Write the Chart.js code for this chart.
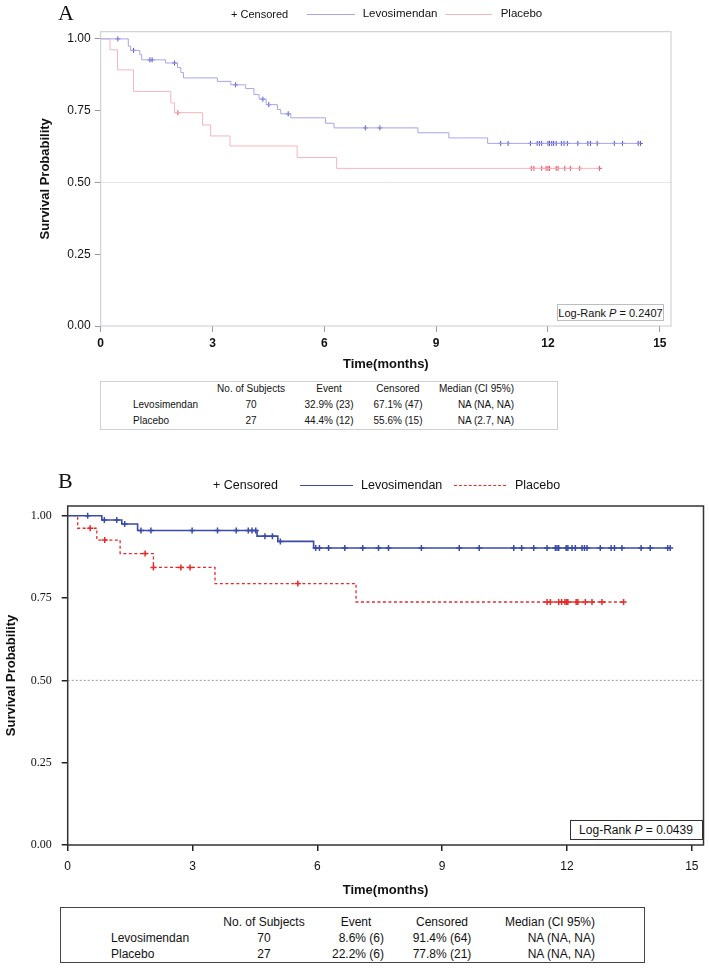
<!DOCTYPE html>
<html>
<head>
<meta charset="utf-8">
<title>Kaplan-Meier survival</title>
<script src="https://cdn.jsdelivr.net/npm/chart.js@4.4.0/dist/chart.umd.min.js"></script>
<style>
  html, body { margin: 0; padding: 0; background: #fff; }
  #page { position: relative; width: 709px; height: 968px; overflow: hidden;
          font-family: "Liberation Sans", Arial, sans-serif; color: #111; }
  #page canvas { position: absolute; left: 0; }
  .t { position: absolute; white-space: nowrap; line-height: 1; }
  .box { position: absolute; box-sizing: border-box; background: #fff; }
  .panel { font-family: "Liberation Serif", "Times New Roman", serif; font-size: 22px; }
  .ln { position: absolute; height: 0; }
</style>
</head>
<body>
<div id="page">
  <canvas id="chartA"></canvas>
  <canvas id="chartB"></canvas>
</div>
<script>
/* ========= DATA ========= */
var xTicks = [0, 3, 6, 9, 12, 15];
var yTicks = [0, 0.25, 0.5, 0.75, 1];
var halfLine = 0.5;
var seriesNames = ['Levosimendan', 'Placebo'];

// Panel A: time of each drop (months) and survival right after it
var aLevoTime = [0, 0.74, 0.80, 1.05, 1.10, 1.74, 2.06, 2.15, 2.22, 3.13, 3.49, 3.89, 4.11, 4.25, 4.44, 4.74, 4.83, 5.10, 6.03, 6.26, 8.51, 9.34, 10.38];
var aLevoSurv = [1, 0.975, 0.960, 0.945, 0.927, 0.916, 0.900, 0.883, 0.864, 0.852, 0.840, 0.827, 0.806, 0.790, 0.771, 0.754, 0.739, 0.725, 0.706, 0.690, 0.673, 0.655, 0.636];
var aLevoCens = [0.46, 0.88, 1.32, 1.38, 1.98, 3.62, 4.35, 4.51, 5.03, 7.10, 7.49, 10.73, 10.93, 11.53, 11.71, 11.77, 11.83, 12.00, 12.04, 12.10, 12.15, 12.22, 12.36, 12.43, 12.52, 12.80, 13.07, 13.14, 13.32, 13.78, 14.00, 14.42, 14.48];

var aPlacTime = [0, 0.25, 0.45, 0.88, 1.88, 1.98, 2.73, 2.95, 3.47, 5.27, 6.33];
var aPlacSurv = [1, 0.962, 0.892, 0.817, 0.777, 0.743, 0.700, 0.662, 0.627, 0.587, 0.549];
var aPlacCens = [2.07, 11.55, 11.62, 11.83, 11.95, 12.00, 12.04, 12.22, 12.27, 12.45, 12.60, 12.85, 13.38];

// Panel B
var bLevoTime = [0, 0.82, 1.30, 1.68, 4.55, 5.05, 5.91];
var bLevoSurv = [1, 0.987, 0.975, 0.955, 0.938, 0.922, 0.902];
var bLevoCens = [0.48, 0.88, 1.18, 1.37, 1.76, 2.00, 2.99, 3.60, 4.05, 4.34, 4.43, 4.52, 4.74, 4.92, 5.11, 5.96, 6.05, 6.27, 6.66, 7.09, 7.47, 7.71, 8.50, 9.41, 9.89, 10.72, 10.91, 11.20, 11.52, 11.72, 11.76, 11.80, 11.98, 12.02, 12.12, 12.20, 12.36, 12.42, 12.48, 12.80, 13.06, 13.14, 13.32, 13.78, 14.00, 14.42, 14.48];

var bPlacTime = [0, 0.24, 0.70, 1.26, 2.06, 3.54, 6.93];
var bPlacSurv = [1, 0.962, 0.926, 0.885, 0.843, 0.794, 0.738];
var bPlacCens = [0.54, 0.89, 1.86, 2.06, 2.72, 2.94, 5.53, 11.52, 11.60, 11.80, 11.87, 11.95, 11.99, 12.02, 12.22, 12.26, 12.44, 12.60, 12.84, 13.36];

var tableHead = ['', 'No. of Subjects', 'Event', 'Censored', 'Median (CI 95%)'];
var tableRowsA = [
    ['Levosimendan', '70', '32.9% (23)', '67.1% (47)', 'NA (NA, NA)'],
    ['Placebo', '27', '44.4% (12)', '55.6% (15)', 'NA (2.7, NA)']
];
var tableRowsB = [
    ['Levosimendan', '70', '8.6% (6)', '91.4% (64)', 'NA (NA, NA)'],
    ['Placebo', '27', '22.2% (6)', '77.8% (21)', 'NA (NA, NA)']
];
var logRankA = '0.2407';
var logRankB = '0.0439';

/* ========= HELPERS ========= */
var page = document.getElementById('page');

function survAt(times, surv, t) {
    var s = surv[0];
    for (var i = 0; i < times.length; i++) if (times[i] <= t) s = surv[i];
    return s;
}
function curve(times, surv, cens) {
    var pts = times.map(function (t, i) { return { x: t, y: surv[i] }; });
    pts.push({ x: Math.max.apply(null, cens), y: surv[surv.length - 1] });
    return pts;
}
function marks(times, surv, cens) {
    return cens.map(function (t) { return { x: t, y: survAt(times, surv, t) }; });
}

function text(parent, html, x, y, align, css) {
    var el = document.createElement('div');
    el.className = 't';
    el.innerHTML = html;
    var tx = align === 'center' ? '-50%' : align === 'right' ? '-100%' : '0';
    el.style.cssText = 'left:' + x + 'px;top:' + y + 'px;transform:translate(' + tx + ',-50%);' + (css || '');
    parent.appendChild(el);
    return el;
}
function box(x, y, w, h, css) {
    var el = document.createElement('div');
    el.className = 'box';
    el.style.cssText = 'left:' + x + 'px;top:' + y + 'px;width:' + w + 'px;height:' + h + 'px;' + (css || '');
    page.appendChild(el);
    return el;
}
function line(x1, x2, y, css) {
    var el = document.createElement('div');
    el.className = 'ln';
    el.style.cssText = 'left:' + x1 + 'px;top:' + y + 'px;width:' + (x2 - x1) + 'px;' + css;
    page.appendChild(el);
}

/* ========= FRAME + 0.50 LINE ========= */
var framePlugin = {
    id: 'frame',
    beforeDatasetsDraw: function (chart, args, o) {
        var a = chart.chartArea, ctx = chart.ctx;
        var y = chart.scales.y.getPixelForValue(halfLine);
        ctx.save();
        ctx.strokeStyle = o.refColor;
        ctx.lineWidth = 1;
        ctx.setLineDash(o.refDash);
        ctx.beginPath();
        ctx.moveTo(a.left, y);
        ctx.lineTo(a.right, y);
        ctx.stroke();
        ctx.restore();
    },
    afterDraw: function (chart, args, o) {
        var a = chart.chartArea, ctx = chart.ctx;
        ctx.save();
        ctx.strokeStyle = o.color;
        ctx.lineWidth = o.width;
        ctx.strokeRect(a.left, a.top, a.right - a.left, a.bottom - a.top);
        ctx.restore();
    }
};

function kmChart(id, top, o) {
    var cv = document.getElementById(id);
    cv.width = 709;
    cv.height = o.height;
    cv.style.top = top + 'px';
    return new Chart(cv, {
        type: 'line',
        data: { datasets: o.datasets },
        options: {
            responsive: false,
            animation: false,
            events: [],
            layout: { padding: o.padding },
            plugins: { legend: { display: false }, tooltip: { enabled: false }, frame: o.frame },
            scales: {
                x: {
                    type: 'linear', min: 0, max: o.xMax,
                    afterBuildTicks: function (s) { s.ticks = xTicks.map(function (v) { return { value: v }; }); },
                    afterFit: function (s) { s.height = o.xHeight; },
                    grid: { drawOnChartArea: false, tickLength: o.tickLen, color: o.tickColor, lineWidth: o.tickWidth },
                    border: { display: false },
                    ticks: { autoSkip: false, maxRotation: 0, font: o.xTickFont, color: '#111', padding: o.xPad },
                    title: { display: true, text: 'Time(months)', font: o.titleFont, color: '#111', padding: 0 }
                },
                y: {
                    min: 0, max: o.yMax,
                    afterBuildTicks: function (s) { s.ticks = yTicks.map(function (v) { return { value: v }; }); },
                    afterFit: function (s) { s.width = o.yWidth; },
                    grid: { drawOnChartArea: false, tickLength: o.tickLen, color: o.tickColor, lineWidth: o.tickWidth },
                    border: { display: false },
                    ticks: { autoSkip: false, font: o.yTickFont, color: '#111', padding: o.yPad,
                             callback: function (v) { return v.toFixed(2); } },
                    title: { display: true, text: 'Survival Probability', font: o.titleFont, color: '#111', padding: 0 }
                }
            }
        },
        plugins: [framePlugin]
    });
}

function stepSet(pts, color, width, dash) {
    return { data: pts, borderColor: color, borderWidth: width, borderDash: dash || [],
             stepped: 'before', pointRadius: 0, fill: false };
}
function markSet(pts, color, r, width) {
    return { data: pts, showLine: false, pointStyle: 'cross', pointRadius: r,
             pointBorderColor: color, pointBorderWidth: width, borderColor: color };
}

/* ========= PANEL A ========= */
kmChart('chartA', 0, {
    height: 380,
    padding: { left: 38, top: 31.7, right: 38, bottom: 8 },
    xHeight: 46, yWidth: 62.7, xMax: 15.3, yMax: 1.025,
    tickLen: 6, tickColor: '#9a9a9a', tickWidth: 1, xPad: 4, yPad: 4,
    xTickFont: { family: 'Liberation Sans', size: 12, weight: 'bold' },
    yTickFont: { family: 'Liberation Sans', size: 12 },
    titleFont: { family: 'Liberation Sans', size: 13, weight: 'bold' },
    frame: { color: '#c9c9d3', width: 1, refColor: '#e4e4ea', refDash: [] },
    datasets: [
        stepSet(curve(aLevoTime, aLevoSurv, aLevoCens), '#a6a6ee', 1),
        stepSet(curve(aPlacTime, aPlacSurv, aPlacCens), '#f6b6be', 1),
        markSet(marks(aLevoTime, aLevoSurv, aLevoCens), '#5252c6', 2.5, 1),
        markSet(marks(aPlacTime, aPlacSurv, aPlacCens), '#e2505e', 2.5, 1)
    ]
});

/* ========= PANEL B ========= */
kmChart('chartB', 460, {
    height: 440,
    padding: { left: 4, top: 46, right: 3.3, bottom: 2.2 },
    xHeight: 52.8, yWidth: 63.7, xMax: 15.28, yMax: 1.0295,
    tickLen: 6, tickColor: '#222', tickWidth: 1.5, xPad: 8, yPad: 10,
    xTickFont: { family: 'Liberation Sans', size: 12 },
    yTickFont: { family: 'Liberation Sans Narrow', size: 12 },
    titleFont: { family: 'Liberation Sans', size: 13, weight: 'bold' },
    frame: { color: '#333', width: 1.5, refColor: '#9a9a9a', refDash: [2, 2] },
    datasets: [
        stepSet(curve(bLevoTime, bLevoSurv, bLevoCens), '#3a4aa8', 1.6),
        stepSet(curve(bPlacTime, bPlacSurv, bPlacCens), '#e82a2a', 1.3, [3, 2.5]),
        markSet(marks(bLevoTime, bLevoSurv, bLevoCens), '#3a4aa8', 3, 1.5),
        markSet(marks(bPlacTime, bPlacSurv, bPlacCens), '#e82a2a', 3, 1.5)
    ]
});

/* ========= LABELS, LEGENDS ========= */
text(page, 'A', 58, 13, 'left', '', 'panel').className = 't panel';
text(page, 'B', 58, 481, 'left').className = 't panel';

text(page, '+ Censored', 231, 14, 'left', 'font-size:11px;');
line(307, 355, 13.5, 'border-top:1px solid #a6a6ee;');
text(page, seriesNames[0], 362.7, 14, 'left', 'font-size:11.5px;');
line(445, 492, 13.5, 'border-top:1px solid #f6b6be;');
text(page, seriesNames[1], 500.7, 14, 'left', 'font-size:11.5px;');

text(page, '+ Censored', 213, 485, 'left', 'font-size:12.5px;');
line(300, 353, 484.5, 'border-top:1.6px solid #3a4aa8;');
text(page, seriesNames[0], 361, 485, 'left', 'font-size:12.5px;');
line(454, 506, 484.5, 'border-top:1.3px dashed #e82a2a;');
text(page, seriesNames[1], 515, 485, 'left', 'font-size:12.5px;');

/* ========= LOG-RANK BOXES ========= */
var lrA = box(557, 304, 107, 17, 'border:1px solid #bdbdc4;');
text(lrA, 'Log-Rank <i>P</i> = ' + logRankA, 52.5, 8, 'center', 'font-size:11px;');
var lrB = box(570, 820, 133, 20, 'border:1.5px solid #333;');
text(lrB, 'Log-Rank <i>P</i> = ' + logRankB, 65, 9, 'center', 'font-size:12px;');

/* ========= TABLES ========= */
function table(x, y, w, h, border, font, headPos, bodyPos, rowY, rows) {
    var b = box(x, y, w, h, 'border:' + border + ';font-size:' + font + 'px;');
    tableHead.forEach(function (t, c) {
        if (t) text(b, t, headPos[c][0], rowY[0], headPos[c][1]);
    });
    rows.forEach(function (r, i) {
        r.forEach(function (t, c) { text(b, t, bodyPos[c][0], rowY[i + 1], bodyPos[c][1]); });
    });
}
var posA = [[32, 'left'], [150, 'center'], [228, 'center'], [297, 'center'], [413, 'right']];
table(100, 381, 458, 49, '1px solid #cfcfd6', 10, posA, posA, [7, 23, 39], tableRowsA);

table(60, 907, 585, 56, '1.5px solid #444', 12,
      [[50, 'left'], [203, 'center'], [295, 'center'], [381, 'center'], [534, 'right']],
      [[50, 'left'], [203, 'center'], [323, 'right'], [381, 'center'], [534, 'right']],
      [14, 30, 46], tableRowsB);
</script>
</body>
</html>
